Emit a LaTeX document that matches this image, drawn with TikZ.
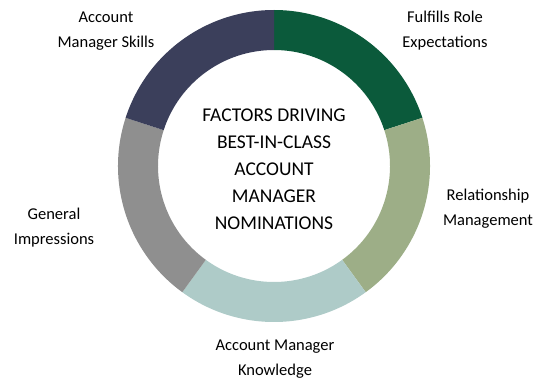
\documentclass[tikz,border=0pt]{standalone}
\usepackage{fontspec}
\setmainfont{Carlito}
\usetikzlibrary{calc}
\definecolor{cgreen}{HTML}{0B5A3B}
\definecolor{csage}{HTML}{9DAE87}
\definecolor{cteal}{HTML}{AECBC8}
\definecolor{cgray}{HTML}{8F8F8F}
\definecolor{cnavy}{HTML}{3B3F5B}
\begin{document}
\begin{tikzpicture}[x=1pt,y=1pt,
  lbl/.style={align=center,font=\fontsize{16.5}{25}\selectfont,text=black,inner sep=0pt},
  ctr/.style={align=center,font=\fontsize{19.5}{27}\selectfont,text=black,inner sep=0pt}]
\useasboundingbox (0,0) rectangle (539,381);
\coordinate (c) at (274,215);
\def\ro{156}\def\ri{116}
\foreach \a/\b/\col in {90/18/cgreen,18/-54/csage,-54/-126/cteal,-126/-198/cgray,162/90/cnavy}{
  \fill[\col] ($(c)+(\a:\ro)$) arc[start angle=\a,end angle=\b,radius=\ro]
    -- ($(c)+(\b:\ri)$) arc[start angle=\b,end angle=\a,radius=\ri] -- cycle;
}
\node[ctr] (title) at (274,212) {FACTORS DRIVING\\BEST-IN-CLASS\\ACCOUNT\\MANAGER\\NOMINATIONS};
\node[lbl] (skills) at (106,350) {Account\\Manager Skills};
\node[lbl] (role) at (445,350) {Fulfills Role\\Expectations};
\node[lbl] (rel) at (488,172) {Relationship\\Management};
\node[lbl] (gen) at (54,153) {General\\Impressions};
\node[lbl] (know) at (275,22) {Account Manager\\Knowledge};
\end{tikzpicture}
\end{document}
